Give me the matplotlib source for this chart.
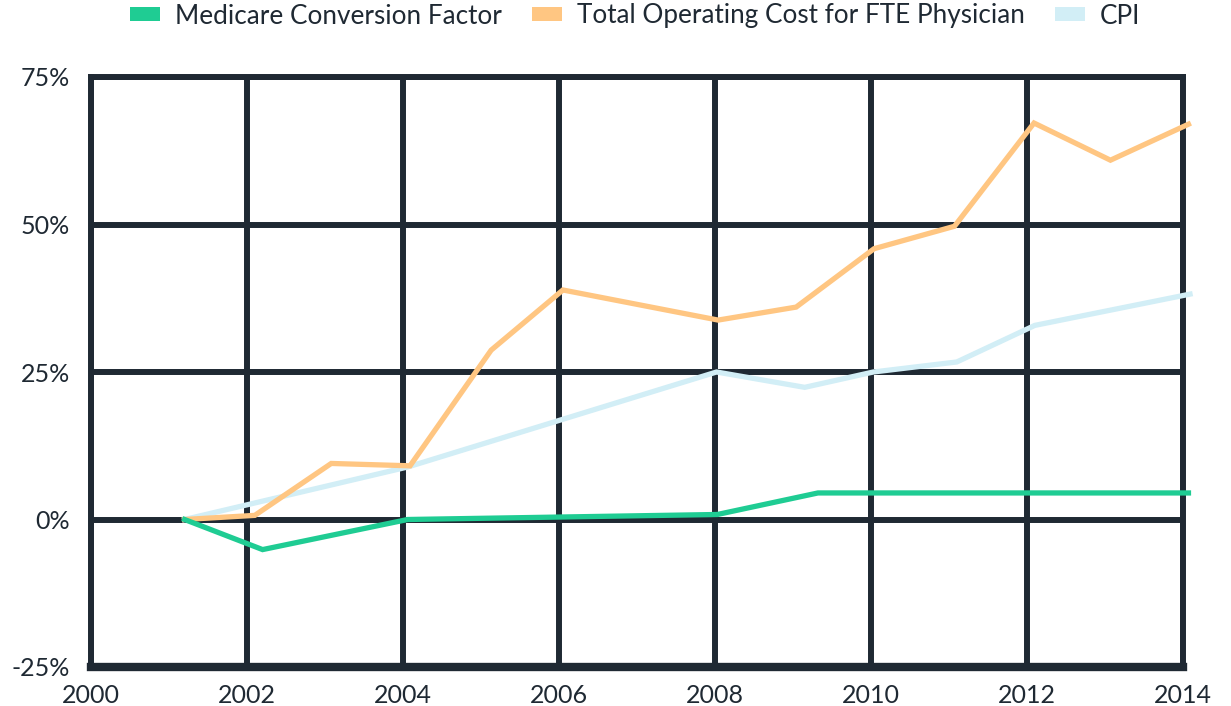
import matplotlib
matplotlib.use("Agg")
import matplotlib.pyplot as plt
from matplotlib.patches import Patch

plt.rcParams['font.family'] = ['Lato', 'DejaVu Sans']

# values (fractional year, percent change since 2001)
mcf_x = [2001.2, 2002.2, 2004.06, 2008.03, 2009.32, 2014.07]
mcf_y = [0.0, -5.1, 0.0, 0.85, 4.5, 4.5]

cost_x = [2001.2, 2002.1, 2003.08, 2004.09, 2005.13, 2006.05, 2008.04,
          2009.04, 2010.04, 2011.07, 2012.09, 2013.07, 2014.07]
cost_y = [0.0, 0.7, 9.5, 9.1, 28.7, 38.9, 33.8, 36.0, 45.9, 49.7, 67.2, 60.9, 67.0]

cpi_x = [2001.2, 2004.06, 2008.02, 2009.15, 2010.03, 2011.1, 2012.1, 2014.09]
cpi_y = [0.0, 8.9, 25.0, 22.4, 25.0, 26.7, 32.9, 38.2]

series_names = ['Medicare Conversion Factor', 'Total Operating Cost for FTE Physician', 'CPI']
series_colors = ['#1fcc93', '#ffc682', '#d2eef6']

x_ticks = [2000, 2002, 2004, 2006, 2008, 2010, 2012, 2014]
y_ticks = [-25, 0, 25, 50, 75]

dark = '#1f2933'

fig = plt.figure(figsize=(12.31, 7.06), dpi=100)
ax = fig.add_axes([91 / 1231, 1 - 667 / 706, (1183 - 91) / 1231, (667 - 77) / 706])

for (xs, ys), c in zip([(cpi_x, cpi_y), (cost_x, cost_y), (mcf_x, mcf_y)],
                       [series_colors[2], series_colors[1], series_colors[0]]):
    ax.plot(xs, ys, color=c, lw=3.8, solid_joinstyle='miter', clip_on=False, zorder=3)

ax.set_xlim(2000, 2014)
ax.set_ylim(-25, 75)
ax.set_xticks(x_ticks)
ax.set_yticks(y_ticks)
ax.set_yticklabels([f'{v}%' for v in y_ticks])
ax.grid(True, color=dark, lw=4.3, zorder=1)
ax.set_axisbelow(True)
for s in ax.spines.values():
    s.set_color(dark)
    s.set_linewidth(4.3)
ax.spines['bottom'].set_linewidth(6)
ax.tick_params(length=0, labelsize=18, labelcolor=dark)
ax.tick_params(axis='y', pad=15)
ax.tick_params(axis='x', pad=12)

handles = [Patch(facecolor=c, edgecolor='none') for c in series_colors]
fig.legend(handles, series_names, loc='center', bbox_to_anchor=(635 / 1231, 1 - 16 / 706),
           ncol=3, frameon=False, fontsize=18.8, labelcolor=dark, handletextpad=0.58,
           columnspacing=1.15, handlelength=1.15, handleheight=0.42)

fig.savefig('out.png', dpi=100)
